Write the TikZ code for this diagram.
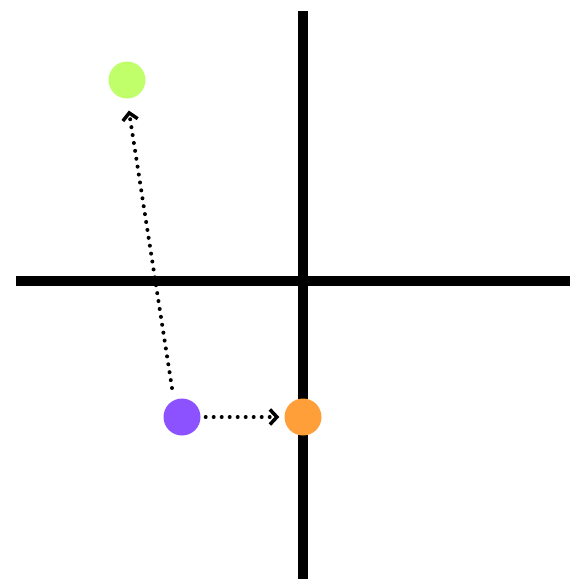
\documentclass[tikz,border=0pt]{standalone}
\usetikzlibrary{arrows.meta}
\definecolor{cgreen}{HTML}{C1FF6A}
\definecolor{cpurple}{HTML}{8C52FF}
\definecolor{corange}{HTML}{FF9F3A}
\begin{document}
\begin{tikzpicture}[x=1pt,y=-1pt,
  axis/.style={line width=10pt},
  dot/.style={circle,inner sep=0pt,minimum size=37pt},
  dotarrow/.style={line width=4pt,line cap=round,dash pattern=on 0pt off 8pt,
    -{Straight Barb[length=7pt,width=15pt,line width=3.5pt]}}]
\useasboundingbox (0,0) rectangle (570,579);
\coordinate (vt) at (303,11);
\coordinate (vb) at (303,579);
\coordinate (hl) at (16,281);
\coordinate (hr) at (570,281);
\draw[axis] (vt) -- (vb);
\draw[axis] (hl) -- (hr);
\node[dot,fill=cgreen] (g) at (127,80) {};
\node[dot,fill=cpurple] (p) at (182,417) {};
\node[dot,fill=corange] (o) at (303,417) {};
\coordinate (s) at (172,388);
\draw[dotarrow,shorten >=12pt] (s) -- (g.south);
\draw[dotarrow,shorten <=5pt,shorten >=5pt] (p.east) -- (o.west);
\end{tikzpicture}
\end{document}
